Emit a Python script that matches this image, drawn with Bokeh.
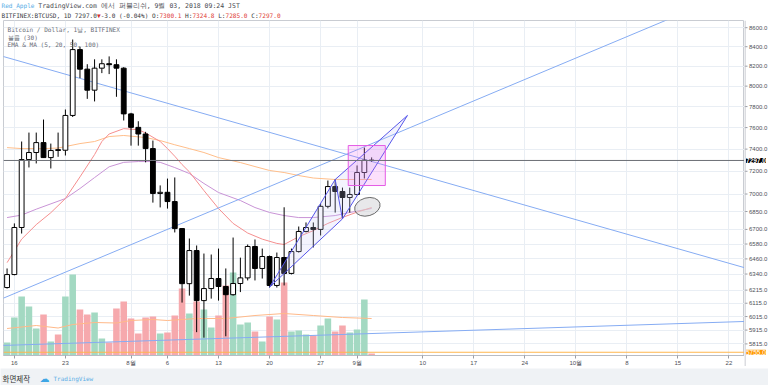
import pandas as pd
from bokeh.plotting import figure
from bokeh.models import Range1d, LinearScale, FixedTicker, Label, Span, ColumnDataSource
from bokeh.layouts import column, row
from bokeh.embed import file_html
from bokeh.resources import INLINE
from bokeh.core.properties import value

# ---------------- data ----------------
dates = pd.date_range("2018-07-15", "2018-09-03", freq="D")
opens = [6235, 6336, 6716, 7305, 7369, 7460, 7323, 7395, 7390, 7715, 8370, 8170, 7960, 8180, 8225, 8215, 8180,
         7730, 7602, 7540, 7405, 7005, 7015, 6935, 6707, 6265, 6527, 6135, 6227, 6305, 6243, 6180, 6266, 6310,
         6560, 6384, 6479, 6251, 6471, 6345, 6519, 6683, 6716, 6700, 6894, 7065, 7022, 6970,
         6996, 7189, 7300.1]
highs = [6384, 6750, 7470, 7553, 7553, 7676, 7451, 7553, 7772, 8475, 8400, 8220, 8270, 8270, 8300, 8270, 8190,
         7740, 7660, 7560, 7479, 7075, 7135, 7145, 6710, 6625, 6568, 6503, 6495, 6543, 6384, 6633, 6470, 6576,
         6617, 6543, 6487, 6511, 6886, 6543, 6724, 6758, 6758, 6920, 7118, 7127, 7056, 7056,
         7252, 7414, 7324.8]
lows = [6227, 6330, 6666, 7234, 7270, 7320, 7225, 7330, 7342, 7700, 8080, 7875, 7850, 8130, 8120, 7895, 7667,
        7432, 7432, 7280, 6926, 6885, 6875, 6675, 6120, 6173, 5900, 5860, 6150, 6135, 5870, 6173, 6200, 6290,
        6290, 6305, 6235, 6235, 6251, 6337, 6511, 6675, 6552, 6650, 6877, 6841, 6790, 6841,
        6988, 7136, 7285.0]
closes = [6336, 6716, 7305, 7369, 7460, 7323, 7387, 7388, 7715, 8370, 8170, 7960, 8180, 8225, 8215, 8180, 7730,
          7602, 7540, 7405, 7005, 7015, 6935, 6707, 6265, 6527, 6135, 6227, 6305, 6243, 6180, 6266, 6310, 6560,
          6384, 6479, 6251, 6471, 6345, 6519, 6683, 6716, 6700, 6894, 7065, 7022, 6970, 6996,
          7189, 7300, 7297.0]
volumes_k = [7.8, 22.8, 35.4, 29.4, 16.2, 24.6, 8.4, 12.6, 35.4, 48.6, 27.6, 24.6, 25.8, 10.2, 7.8, 28.2, 32.4,
             22.2, 13.2, 22.8, 23.4, 13.2, 13.8, 24.0, 40.2, 25.2, 32.4, 27.6, 16.8, 24.0, 42.0, 49.8, 18.6, 19.8,
             14.4, 8.4, 23.4, 21.6, 43.8, 14.4, 15.0, 12.6, 12.0, 18.0, 22.2, 14.4, 18.0, 13.8,
             15.6, 33.6, 1.2]

vol_ma_dates = ["2018-07-15", "2018-07-19", "2018-07-22", "2018-07-24", "2018-07-27", "2018-07-30", "2018-08-01",
                "2018-08-04", "2018-08-06", "2018-08-10", "2018-08-14", "2018-08-18", "2018-08-22", "2018-08-26",
                "2018-08-30", "2018-09-03"]
vol_ma_k = [16.2, 18.0, 16.5, 18.6, 19.8, 19.5, 21.0, 21.6, 21.0, 22.2, 22.2, 24.0, 25.2, 24.0, 22.8, 22.2]

ma20_dates = ["2018-07-15", "2018-07-17", "2018-07-19", "2018-07-21", "2018-07-23", "2018-07-25", "2018-07-27",
              "2018-07-28", "2018-07-29", "2018-07-31", "2018-08-02", "2018-08-03", "2018-08-05", "2018-08-06",
              "2018-08-07", "2018-08-08", "2018-08-09", "2018-08-11", "2018-08-13", "2018-08-15", "2018-08-17",
              "2018-08-19", "2018-08-21", "2018-08-22", "2018-08-24", "2018-08-26", "2018-08-28", "2018-08-30",
              "2018-09-01", "2018-09-03"]
ma20 = [6430, 6620, 6740, 6840, 6961, 7150, 7350, 7470, 7540, 7590, 7580, 7550, 7470, 7405, 7335, 7260, 7195,
        7030, 6876, 6750, 6670, 6620, 6585, 6576, 6640, 6690, 6750, 6800, 6845, 6884]

ma50_dates = ["2018-07-15", "2018-07-17", "2018-07-19", "2018-07-23", "2018-07-25", "2018-07-27", "2018-07-29",
              "2018-07-31", "2018-08-02", "2018-08-04", "2018-08-05", "2018-08-07", "2018-08-09", "2018-08-11",
              "2018-08-13", "2018-08-16", "2018-08-18", "2018-08-20", "2018-08-22", "2018-08-24", "2018-08-26",
              "2018-08-29", "2018-08-31", "2018-09-03"]
ma50 = [6799, 6820, 6870, 6961, 7048, 7144, 7240, 7280, 7287, 7287, 7280, 7233, 7180, 7092, 7013, 6944, 6884,
        6842, 6816, 6799, 6799, 6816, 6842, 6876]

ma100_dates = ["2018-07-15", "2018-07-17", "2018-07-20", "2018-07-22", "2018-07-25", "2018-07-27", "2018-07-29",
               "2018-07-31", "2018-08-03", "2018-08-05", "2018-08-07", "2018-08-09", "2018-08-11", "2018-08-13",
               "2018-08-16", "2018-08-18", "2018-08-20", "2018-08-22", "2018-08-24", "2018-08-26", "2018-08-29",
               "2018-09-03"]
ma100 = [7414, 7405, 7405, 7410, 7451, 7470, 7516, 7526, 7507, 7479, 7440, 7405, 7369, 7323, 7278, 7242, 7207,
         7189, 7162, 7140, 7127, 7127]

# drawings (user trend lines etc.)
line_dates = ["2018-07-14", "2018-10-25"]
desc_line = [8309, 6376]
asc_line = [6142, 9070]
flat_line = [5803, 5980]
hline_price = 5755.0
last_price = 7297.0

# triangle pattern points A, B, C, D
wedge_dates = ["2018-08-20 00:00", "2018-08-29 00:00", "2018-08-30 00:00", "2018-09-07 22:00"]
wedge_prices = [6238, 7127, 6788, 7715]

rect_dates = ["2018-08-30 19:00", "2018-09-04 21:00"]
rect_prices = [7074, 7433]
ellipse_date = "2018-09-02 10:00"
ellipse_price = 6890

price_ticks = [8600, 8400, 8200, 8000, 7800, 7600, 7400, 7200, 7000, 6850, 6700, 6580, 6460, 6340, 6215,
               6115, 6015, 5915, 5815]
date_ticks = ["2018-07-16", "2018-07-23", "2018-08-01", "2018-08-06", "2018-08-13", "2018-08-20", "2018-08-27",
              "2018-09-01", "2018-09-10", "2018-09-17", "2018-09-24", "2018-10-01", "2018-10-08", "2018-10-15",
              "2018-10-22"]
date_labels = ["16", "23", "8월", "6", "13", "20", "27", "9월", "10", "17", "24", "10월", "8", "15", "22"]


def to_dt(lst):
    return pd.to_datetime(lst, format="ISO8601")


# ---------------- layout constants ----------------
DAY = 86400000
TOTAL_W = 768
FW, FH = 741, 335
XAXIS_H = 11
AXW = TOTAL_W - FW - 3
MONO = "DejaVu Sans Mono"
SANS = "Liberation Sans"
x_start = pd.Timestamp("2018-07-14 12:15")
x_end = pd.Timestamp("2018-10-24 03:20")
Y_LO, Y_HI = 5732, 8677
y_rng = Range1d(Y_LO, Y_HI)

# ---------------- header ----------------
hd = figure(width=TOTAL_W, height=19, x_range=Range1d(0, TOTAL_W), y_range=Range1d(0, 19), min_border=0,
            output_backend="svg", toolbar_location=None)
hd.background_fill_color = "white"
hd.border_fill_color = "white"
hd.outline_line_color = None
hd.axis.visible = False
hd.grid.visible = False
CW = 6.1 * 0.602


def hdr(text, col, y, color, size="6.1px"):
    hd.add_layout(Label(x=1 + col * CW, y=y, text=text, text_font=MONO, text_font_size=size,
                        text_color=color, text_baseline="middle"))


hdr("Red_Apple", 0, 14, "#5aaee6")
hdr("TradingView.com 에서 퍼블리쉬, 9월 03, 2018 09:24 JST", 10, 14, "#4a4c52", "6.5px")
segs = [("BITFINEX:BTCUSD, 1D 7297.0", "#3a3c42"), ("▼", "#d32f2f"), ("-3.0 (-0.04%) O:", "#3a3c42"),
        ("7300.1", "#e0403a"), (" H:", "#3a3c42"), ("7324.8", "#e0403a"), (" L:", "#3a3c42"),
        ("7285.0", "#e0403a"), (" C:", "#3a3c42"), ("7297.0", "#e0403a")]
col = 0
for t, c in segs:
    lead = len(t) - len(t.lstrip(" "))
    hdr(t.lstrip(" "), col + lead, 4.5, c)
    col += len(t)

# ---------------- main chart ----------------
p = figure(x_axis_type="datetime", y_axis_type="log", y_axis_location=None,
           x_range=Range1d(x_start, x_end), y_range=y_rng,
           frame_width=FW, frame_height=FH, min_border_left=3, min_border_right=0,
           min_border_top=1, min_border_bottom=XAXIS_H,
           extra_y_ranges={"vol": Range1d(0, 201)}, extra_y_scales={"vol": LinearScale()},
           output_backend="svg", toolbar_location=None)
p.background_fill_color = "white"
p.border_fill_color = "white"
p.outline_line_color = "#c9ccd2"

grid_color = "#e9eef4"
tick_ms = [pd.Timestamp(d).value // 10**6 for d in date_ticks]
p.xaxis.ticker = FixedTicker(ticks=tick_ms, minor_ticks=[])
p.xaxis.major_label_overrides = {t: l for t, l in zip(tick_ms, date_labels)}
p.xgrid.ticker = FixedTicker(ticks=tick_ms, minor_ticks=[])
p.ygrid.ticker = FixedTicker(ticks=price_ticks, minor_ticks=[])
p.xgrid.grid_line_color = grid_color
p.ygrid.grid_line_color = grid_color
ax = p.xaxis
ax.axis_line_color = "#b9bcc3"
ax.major_tick_line_color = "#9a9da5"
ax.major_tick_out = 3
ax.major_tick_in = 0
ax.minor_tick_line_color = None
ax.major_label_text_font = SANS
ax.major_label_text_font_size = "6px"
ax.major_label_text_color = "#4e5058"
ax.major_label_standoff = 1

# volume
vol_colors = ["#a3d9c2" if c >= o else "#f6a9ad" for o, c in zip(opens, closes)]
p.vbar(x=dates, top=volumes_k, bottom=0, width=0.9 * DAY, fill_color=vol_colors, line_color=None,
       y_range_name="vol")
p.line(x=to_dt(vol_ma_dates), y=vol_ma_k, line_color="#ffb989", line_width=1, y_range_name="vol")

# moving averages
p.line(x=to_dt(ma100_dates), y=ma100, line_color="#ffbe8a", line_width=1)
p.line(x=to_dt(ma50_dates), y=ma50, line_color="#c994d6", line_width=1)
p.line(x=to_dt(ma20_dates), y=ma20, line_color="#f58f8f", line_width=1)

# price lines
p.add_layout(Span(location=hline_price, dimension="width", line_color="#ffb74d", line_width=1))
p.add_layout(Span(location=last_price, dimension="width", line_color="#6b6e75", line_width=1))

# trend lines
ld = to_dt(line_dates)
for ys in (desc_line, asc_line, flat_line):
    p.line(x=ld, y=ys, line_color="#86acf3", line_width=1)

# candles
src = ColumnDataSource(dict(
    x=dates, o=opens, h=highs, l=lows, c=closes,
    top=[max(o, c) for o, c in zip(opens, closes)],
    bot=[min(o, c) for o, c in zip(opens, closes)],
    fill=["white" if c >= o else "black" for o, c in zip(opens, closes)]))
p.segment(x0="x", y0="h", x1="x", y1="l", source=src, line_color="black", line_width=1)
p.vbar(x="x", top="top", bottom="bot", width=0.66 * DAY, fill_color="fill", line_color="black",
       line_width=1, source=src)

# triangle pattern drawing: A-B-C-D zigzag plus A-C and B-D
wd = to_dt(wedge_dates)
wp = wedge_prices
p.patch(x=[wd[0], wd[1], wd[3], wd[2]], y=[wp[0], wp[1], wp[3], wp[2]],
        fill_color="#c8c8f5", fill_alpha=0.22, line_color=None)
wcol = "#5656ea"
p.line(x=wd, y=wp, line_color=wcol, line_width=1)
p.line(x=[wd[0], wd[2]], y=[wp[0], wp[2]], line_color=wcol, line_width=1)
p.line(x=[wd[1], wd[3]], y=[wp[1], wp[3]], line_color=wcol, line_width=1)

# rectangle and ellipse
rd = to_dt(rect_dates)
p.quad(left=[rd[0]], right=[rd[1]], bottom=[rect_prices[0]], top=[rect_prices[1]],
       fill_color="#ee66ee", fill_alpha=0.2, line_color="#e55be5", line_width=1)
p.ellipse(x=[pd.Timestamp(ellipse_date)], y=[ellipse_price], width=26, height=18,
          width_units="screen", height_units="screen", angle=0.28,
          fill_color="#d5d5d8", fill_alpha=0.55, line_color="#6a6a6a", line_width=1)

# legend inside chart
for i, t in enumerate(["Bitcoin / Dollar, 1날, BITFINEX", "볼륨 (30)", "EMA & MA (5, 20, 50, 100)"]):
    p.add_layout(Label(x=4, y=FH - 9 - 7.5 * i, x_units="screen", y_units="screen", text=t,
                       text_font=MONO, text_font_size="6.1px", text_color="#6b6e78", text_baseline="middle"))

# ---------------- price scale column (same log scale, frame extended over the time-axis strip) ----------------
pa_lo = Y_LO * (Y_HI / Y_LO) ** (-XAXIS_H / FH)
pa = figure(y_axis_type="log", x_range=Range1d(0, AXW), y_range=Range1d(pa_lo, Y_HI),
            frame_width=AXW, frame_height=FH + XAXIS_H, min_border_left=0, min_border_right=0,
            min_border_top=1, min_border_bottom=0, output_backend="svg", toolbar_location=None)
pa.background_fill_color = "white"
pa.border_fill_color = "white"
pa.outline_line_color = None
pa.axis.visible = False
pa.grid.visible = False
pa.add_layout(Span(location=0.5, dimension="height", line_color="#b9bcc3", line_width=1))
pa.segment(x0=[0] * len(price_ticks), y0=price_ticks, x1=[3] * len(price_ticks), y1=price_ticks,
           line_color="#9a9da5", line_width=1)
pa.text(x=[4.5] * len(price_ticks), y=price_ticks, text=[f"{t:.1f}" for t in price_ticks],
        text_font=value(SANS), text_font_size=value("6px"), text_color="#4e5058", text_baseline="middle")
pa.add_layout(Label(x=1.5, y=last_price, text=f"{last_price:.1f}", text_font=SANS,
                    text_font_size="6.5px", text_font_style="bold", text_color="white",
                    text_baseline="middle", background_fill_color="black"))
pa.add_layout(Label(x=1.5, y=hline_price, text=f"{hline_price:.1f}", text_font=SANS,
                    text_font_size="6.5px", text_color="white", text_baseline="middle",
                    background_fill_color="#ff9800"))

# ---------------- footer ----------------
f = figure(width=TOTAL_W, height=19, x_range=Range1d(0, TOTAL_W), y_range=Range1d(0, 19), min_border=0,
           output_backend="svg", toolbar_location=None)
f.background_fill_color = "#eff2f5"
f.border_fill_color = "#eff2f5"
f.outline_line_color = None
f.axis.visible = False
f.grid.visible = False
f.add_layout(Label(x=2, y=9, text="화면제작", text_font="Noto Sans CJK KR", text_font_size="7.5px",
                   text_color="#333333", text_baseline="middle"))
f.add_layout(Label(x=39, y=9.5, text="☁", text_font="DejaVu Sans", text_font_size="10px",
                   text_color="#3ea6e5", text_baseline="middle"))
f.add_layout(Label(x=53, y=9, text="TradingView", text_font=MONO, text_font_size="6px",
                   text_color="#5aaee6", text_baseline="middle"))

layout = column(hd, row(p, pa, spacing=0), f, spacing=0)
open("out.html", "w").write(file_html(layout, INLINE))
